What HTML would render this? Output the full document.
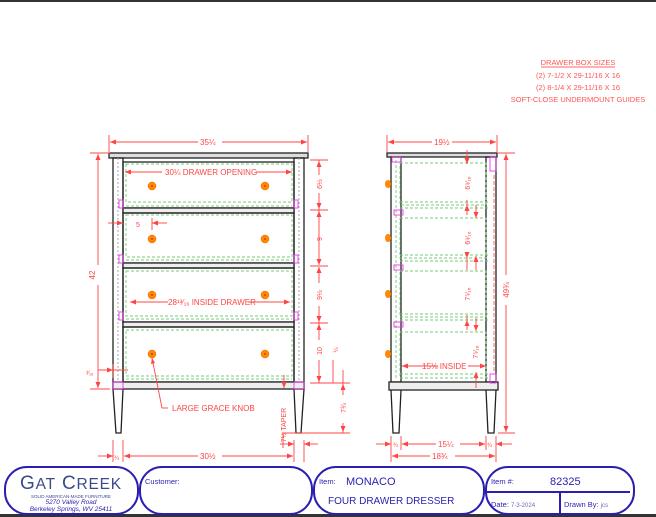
<!DOCTYPE html>
<html><head><meta charset="utf-8"><style>
html,body{margin:0;padding:0;background:#fff;}
svg{display:block;font-family:"Liberation Sans",sans-serif;}
</style></head><body>
<svg width="656" height="517" viewBox="0 0 656 517" xmlns="http://www.w3.org/2000/svg">
<rect x="0" y="0" width="656" height="517" fill="#fff"/>
<rect x="0" y="0" width="656" height="2" fill="#333"/>
<rect x="0" y="514" width="656" height="3" fill="#333"/>

<!-- notes -->
<g fill="#f55" font-size="7.5" text-anchor="middle">
<text x="578" y="65">DRAWER BOX SIZES</text>
<line x1="541" y1="67" x2="615" y2="67" stroke="#f33" stroke-width="0.8"/>
<text x="578" y="78">(2) 7-1/2 X 29-11/16 X 16</text>
<text x="578" y="90">(2) 8-1/4 X 29-11/16 X 16</text>
<text x="578" y="102">SOFT-CLOSE UNDERMOUNT GUIDES</text>
</g>

<!-- FRONT VIEW -->
<g stroke="#222" fill="none" stroke-width="1.3">
<rect x="109" y="153" width="199" height="5" fill="#ddd"/>
<rect x="113" y="158" width="10" height="231"/>
<rect x="294" y="158" width="10" height="231"/>
<line x1="118" y1="158" x2="118" y2="389" stroke="#aaa" stroke-width="1" stroke-dasharray="2,2"/>
<line x1="299" y1="158" x2="299" y2="389" stroke="#aaa" stroke-width="1" stroke-dasharray="2,2"/>
<rect x="123" y="162" width="171" height="46"/>
<rect x="123" y="208" width="171" height="5" fill="#eee"/>
<rect x="123" y="213" width="171" height="50"/>
<rect x="123" y="263" width="171" height="5" fill="#eee"/>
<rect x="123" y="268" width="171" height="54"/>
<rect x="123" y="322" width="171" height="5" fill="#eee"/>
<rect x="123" y="327" width="171" height="55"/>
<rect x="113" y="382" width="191" height="7" fill="#eee"/>
<path d="M113 389 L116 433 L121 433 L123 389"/>
<path d="M294 389 L296 433 L301 433 L304 389"/>
</g>
<g stroke="#7c7" fill="none" stroke-width="0.9" stroke-dasharray="3,2">
<rect x="126" y="164" width="166" height="38"/>
<line x1="126" y1="206" x2="292" y2="206"/>
<rect x="126" y="215" width="166" height="42"/>
<line x1="126" y1="260" x2="292" y2="260"/>
<rect x="126" y="271" width="166" height="45"/>
<line x1="126" y1="319" x2="292" y2="319"/>
<rect x="126" y="330" width="166" height="46"/>
<line x1="126" y1="379" x2="292" y2="379"/>
</g>
<g stroke="#e3e" fill="none" stroke-width="0.9">
<rect x="119" y="200" width="4" height="8"/><rect x="294" y="200" width="4" height="8"/>
<rect x="119" y="255" width="4" height="8"/><rect x="294" y="255" width="4" height="8"/>
<rect x="119" y="312" width="4" height="8"/><rect x="294" y="312" width="4" height="8"/>
<rect x="113" y="382" width="10" height="7"/><rect x="294" y="382" width="10" height="7"/>
</g>
<g fill="#f80" stroke="#e60" stroke-width="0.5">
<circle cx="152" cy="186" r="4"/><circle cx="265" cy="186" r="4"/>
<circle cx="152" cy="239" r="4"/><circle cx="265" cy="239" r="4"/>
<circle cx="152" cy="295" r="4"/><circle cx="265" cy="295" r="4"/>
<circle cx="152" cy="354" r="4"/><circle cx="265" cy="354" r="4"/>
</g>
<g fill="#c40"><circle cx="152" cy="186" r="1"/><circle cx="265" cy="186" r="1"/><circle cx="152" cy="239" r="1"/><circle cx="265" cy="239" r="1"/><circle cx="152" cy="295" r="1"/><circle cx="265" cy="295" r="1"/><circle cx="152" cy="354" r="1"/><circle cx="265" cy="354" r="1"/></g>

<!-- front dims -->
<g stroke="#f44" stroke-width="0.9" fill="none">
<line x1="109" y1="135" x2="109" y2="152"/><line x1="308" y1="135" x2="308" y2="152"/>
<line x1="110" y1="142" x2="198" y2="142"/><line x1="222" y1="142" x2="307" y2="142"/>
<line x1="125" y1="172" x2="162" y2="172"/><line x1="256" y1="172" x2="292" y2="172"/>
<line x1="90" y1="153" x2="110" y2="153"/><line x1="90" y1="389" x2="110" y2="389"/>
<line x1="98" y1="154" x2="98" y2="265"/><line x1="98" y1="285" x2="98" y2="388"/>
<line x1="108" y1="223" x2="123" y2="223"/><line x1="152" y1="218" x2="152" y2="230"/><line x1="152" y1="223" x2="167" y2="223"/>
<line x1="130" y1="302" x2="168" y2="302"/><line x1="248" y1="302" x2="290" y2="302"/>
<line x1="98" y1="370" x2="128" y2="370"/><line x1="113" y1="364" x2="113" y2="378"/>
<line x1="152" y1="358" x2="162" y2="408"/><line x1="162" y1="408" x2="168" y2="408"/>
<line x1="284" y1="375" x2="284" y2="388"/>
<line x1="113" y1="440" x2="113" y2="462"/><line x1="123" y1="440" x2="123" y2="462"/>
<line x1="98" y1="456" x2="113" y2="456"/><line x1="124" y1="456" x2="198" y2="456"/><line x1="222" y1="456" x2="293" y2="456"/>
<line x1="294" y1="440" x2="294" y2="462"/><line x1="304" y1="440" x2="304" y2="462"/>
<line x1="280" y1="444" x2="294" y2="444"/><line x1="304" y1="444" x2="318" y2="444"/>
<line x1="282" y1="433" x2="320" y2="433"/><line x1="283" y1="433" x2="283" y2="448"/>
<line x1="310" y1="160" x2="328" y2="160"/><line x1="310" y1="210" x2="328" y2="210"/>
<line x1="310" y1="266" x2="328" y2="266"/><line x1="310" y1="323" x2="328" y2="323"/>
<line x1="310" y1="383" x2="350" y2="383"/><line x1="310" y1="433" x2="350" y2="433"/>
<line x1="319" y1="160" x2="319" y2="175"/><line x1="319" y1="193" x2="319" y2="265"/>
<line x1="319" y1="267" x2="319" y2="283"/><line x1="319" y1="306" x2="319" y2="340"/>
<line x1="319" y1="360" x2="319" y2="383"/>
<line x1="333" y1="360" x2="333" y2="383"/><line x1="343" y1="370" x2="343" y2="383"/>
<line x1="343" y1="383" x2="343" y2="395"/><line x1="343" y1="423" x2="343" y2="433"/>
</g>
<g fill="#f44">
<path d="M110 142 l6 -2.5 v5z"/><path d="M307 142 l-6 -2.5 v5z"/>
<path d="M125 172 l6 -2.5 v5z"/><path d="M292 172 l-6 -2.5 v5z"/>
<path d="M98 154 l-2.5 6 h5z"/><path d="M98 388 l-2.5 -6 h5z"/>
<path d="M123 223 l-6 -2.5 v5z"/><path d="M152 223 l6 -2.5 v5z"/>
<path d="M130 302 l6 -2.5 v5z"/><path d="M290 302 l-6 -2.5 v5z"/>
<path d="M113 370 l-6 -2.5 v5z"/>
<path d="M113 456 l-6 -2.5 v5z"/><path d="M124 456 l6 -2.5 v5z"/><path d="M293 456 l-6 -2.5 v5z"/>
<path d="M294 444 l-6 -2.5 v5z"/><path d="M304 444 l6 -2.5 v5z"/>
<path d="M319 161 l-2.5 6 h5z"/><path d="M319 209 l-2.5 -6 h5z"/><path d="M319 211 l-2.5 6 h5z"/>
<path d="M319 265 l-2.5 -6 h5z"/><path d="M319 267 l-2.5 6 h5z"/><path d="M319 322 l-2.5 -6 h5z"/>
<path d="M319 324 l-2.5 6 h5z"/><path d="M319 382 l-2.5 -6 h5z"/>
<path d="M343 384 l-2.5 6 h5z"/><path d="M343 432 l-2.5 -6 h5z"/>
<path d="M284 388 l-2.5 -6 h5z"/><path d="M152 358 l-1 6 l4 -1z"/>
</g>
<g fill="#f44" font-size="8">
<text x="200" y="145">35¼</text>
<text x="165" y="175">30¼ DRAWER OPENING</text>
<text x="136" y="227" font-size="7">5</text>
<text x="168" y="305">28¹³⁄₁₆ INSIDE DRAWER</text>
<text x="200" y="459">30½</text>
<text x="172" y="411">LARGE GRACE KNOB</text>
<text transform="translate(95 275) rotate(-90)" text-anchor="middle">42</text>
<text transform="translate(322 184) rotate(-90)" text-anchor="middle" font-size="7">6½</text>
<text transform="translate(322 239) rotate(-90)" text-anchor="middle" font-size="7">9</text>
<text transform="translate(322 295) rotate(-90)" text-anchor="middle" font-size="7">9½</text>
<text transform="translate(322 351) rotate(-90)" text-anchor="middle" font-size="7">10</text>
<text transform="translate(338 350) rotate(-90)" text-anchor="middle" font-size="6">¼</text>
<text transform="translate(346 408) rotate(-90)" text-anchor="middle" font-size="7">7¾</text>
<text transform="translate(286 425) rotate(-90)" text-anchor="middle" font-size="7">7½ TAPER</text>
<text x="86" y="375" font-size="6">³⁄₁₆</text>
<text x="114" y="460" font-size="6">¾</text>
</g>

<!-- SIDE VIEW -->
<g stroke="#222" fill="none" stroke-width="1.3">
<rect x="387" y="153" width="110" height="4" fill="#ddd"/>
<rect x="391" y="157" width="10" height="225"/>
<rect x="486" y="157" width="10" height="225"/>
<rect x="389" y="382" width="109" height="8" fill="#eee"/>
<path d="M391 390 L393 433 L399 433 L401 390"/>
<path d="M486 390 L488 433 L494 433 L496 390"/>
</g>
<g stroke="#7c7" fill="none" stroke-width="0.9" stroke-dasharray="3,2">
<rect x="400" y="163" width="86" height="42"/><line x1="400" y1="202" x2="488" y2="202"/><line x1="400" y1="208" x2="488" y2="208"/>
<rect x="400" y="218" width="86" height="40"/><line x1="400" y1="255" x2="488" y2="255"/><line x1="400" y1="261" x2="488" y2="261"/>
<rect x="400" y="271" width="86" height="46"/><line x1="400" y1="314" x2="488" y2="314"/><line x1="400" y1="320" x2="488" y2="320"/>
<rect x="400" y="332" width="86" height="46"/><line x1="400" y1="374" x2="488" y2="374"/><line x1="400" y1="378" x2="488" y2="378"/>
<line x1="396" y1="160" x2="396" y2="380"/>
</g>
<line x1="494" y1="175" x2="494" y2="372" stroke="#f44" stroke-width="0.8" stroke-dasharray="4,2"/>
<g stroke="#e3e" fill="none" stroke-width="0.9">
<rect x="392" y="157" width="9" height="5"/><rect x="394" y="210" width="9" height="5"/>
<rect x="394" y="265" width="9" height="5"/><rect x="394" y="322" width="9" height="5"/>
<rect x="490" y="157" width="6" height="14"/><rect x="490" y="374" width="6" height="9"/>
</g>
<g fill="#f80">
<ellipse cx="388" cy="184" rx="3" ry="4"/><ellipse cx="388" cy="238" rx="3" ry="4"/>
<ellipse cx="388" cy="294" rx="3" ry="4"/><ellipse cx="388" cy="354" rx="3" ry="4"/>
</g>
<g stroke="#f44" stroke-width="0.9" fill="none">
<line x1="387" y1="135" x2="387" y2="152"/><line x1="497" y1="135" x2="497" y2="152"/>
<line x1="388" y1="142" x2="432" y2="142"/><line x1="452" y1="142" x2="496" y2="142"/>
<line x1="498" y1="153" x2="515" y2="153"/><line x1="498" y1="433" x2="515" y2="433"/>
<line x1="506" y1="154" x2="506" y2="275"/><line x1="506" y1="305" x2="506" y2="432"/>
<line x1="467" y1="150" x2="467" y2="164"/><line x1="467" y1="200" x2="467" y2="215"/>
<line x1="476" y1="205" x2="476" y2="218"/><line x1="467" y1="252" x2="467" y2="270"/>
<line x1="476" y1="256" x2="476" y2="270"/><line x1="467" y1="315" x2="467" y2="330"/>
<line x1="476" y1="318" x2="476" y2="331"/><line x1="476" y1="372" x2="476" y2="388"/>
<line x1="402" y1="366" x2="438" y2="366"/><line x1="468" y1="366" x2="486" y2="366"/>
<line x1="391" y1="436" x2="391" y2="462"/><line x1="401" y1="436" x2="401" y2="450"/>
<line x1="486" y1="436" x2="486" y2="450"/><line x1="496" y1="436" x2="496" y2="462"/>
<line x1="376" y1="444" x2="391" y2="444"/><line x1="402" y1="444" x2="436" y2="444"/><line x1="460" y1="444" x2="485" y2="444"/>
<line x1="496" y1="444" x2="512" y2="444"/>
<line x1="392" y1="456" x2="430" y2="456"/><line x1="455" y1="456" x2="495" y2="456"/>
</g>
<g fill="#f44">
<path d="M388 142 l6 -2.5 v5z"/><path d="M496 142 l-6 -2.5 v5z"/>
<path d="M506 154 l-2.5 6 h5z"/><path d="M506 432 l-2.5 -6 h5z"/>
<path d="M467 164 l-2.5 -6 h5z"/><path d="M467 205 l-2.5 6 h5z"/><path d="M476 218 l-2.5 -6 h5z"/>
<path d="M467 258 l-2.5 -6 h5z"/><path d="M476 256 l-2.5 6 h5z"/><path d="M467 320 l-2.5 6 h5z"/>
<path d="M476 331 l-2.5 -6 h5z"/><path d="M476 372 l-2.5 6 h5z"/>
<path d="M402 366 l6 -2.5 v5z"/><path d="M486 366 l-6 -2.5 v5z"/>
<path d="M391 444 l-6 -2.5 v5z"/><path d="M402 444 l6 -2.5 v5z"/><path d="M485 444 l-6 -2.5 v5z"/><path d="M496 444 l6 -2.5 v5z"/>
<path d="M392 456 l6 -2.5 v5z"/><path d="M495 456 l-6 -2.5 v5z"/>
</g>
<g fill="#f44" font-size="8">
<text x="434" y="145">19½</text>
<text x="422" y="369">15⅛ INSIDE</text>
<text x="438" y="447">15¼</text>
<text x="432" y="459">18¾</text>
<text transform="translate(470 183) rotate(-90)" text-anchor="middle" font-size="7">6⁹⁄₁₆</text>
<text transform="translate(470 238) rotate(-90)" text-anchor="middle" font-size="7">6⁹⁄₁₆</text>
<text transform="translate(470 294) rotate(-90)" text-anchor="middle" font-size="7">7⁵⁄₁₆</text>
<text transform="translate(478 352) rotate(-90)" text-anchor="middle" font-size="7">7⁵⁄₁₆</text>
<text transform="translate(509 290) rotate(-90)" text-anchor="middle">49¾</text>
<text x="393" y="447" font-size="6">¾</text><text x="487" y="447" font-size="6">¾</text>
</g>

<!-- TITLE BLOCK -->
<g stroke="#2a1fb0" stroke-width="2" fill="#fff">
<rect x="5" y="467" width="133" height="47" rx="22"/>
<rect x="140" y="467" width="172" height="47" rx="22"/>
<rect x="314" y="467" width="170" height="47" rx="22"/>
<rect x="486" y="467" width="148" height="47" rx="22"/>
<line x1="486" y1="492" x2="630" y2="492"/>
<line x1="560" y1="492" x2="560" y2="514"/>
</g>
<text x="20" y="489" font-size="19" fill="#3a4a8a" letter-spacing="0.8">G<tspan font-size="15.5">AT</tspan> C<tspan font-size="15.5">REEK</tspan></text>
<text x="71" y="498" font-size="4.5" fill="#3a4a8a" text-anchor="middle">SOLID AMERICAN-MADE FURNITURE</text>
<text x="71" y="504" font-size="6.5" fill="#2a1fb0" text-anchor="middle" font-style="italic">5270 Valley Road</text>
<text x="71" y="511" font-size="6.5" fill="#2a1fb0" text-anchor="middle" font-style="italic">Berkeley Springs, WV  25411</text>
<text x="145" y="484" font-size="7.5" fill="#2a1fb0">Customer:</text>
<text x="319" y="484" font-size="7.5" fill="#2a1fb0">Item:</text>
<text x="346" y="485" font-size="11" fill="#2a1fb0">MONACO</text>
<text x="328" y="504" font-size="10" fill="#2a1fb0">FOUR DRAWER DRESSER</text>
<text x="491" y="484" font-size="7.5" fill="#2a1fb0">Item #:</text>
<text x="550" y="485" font-size="11" fill="#2a1fb0">82325</text>
<text x="491" y="507" font-size="7.5" fill="#2a1fb0">Date: <tspan font-size="6" fill="#6a6ac0">7-3-2024</tspan></text>
<text x="564" y="507" font-size="7.5" fill="#2a1fb0">Drawn By: <tspan font-size="6" fill="#6a6ac0">jcs</tspan></text>
</svg>
</body></html>
